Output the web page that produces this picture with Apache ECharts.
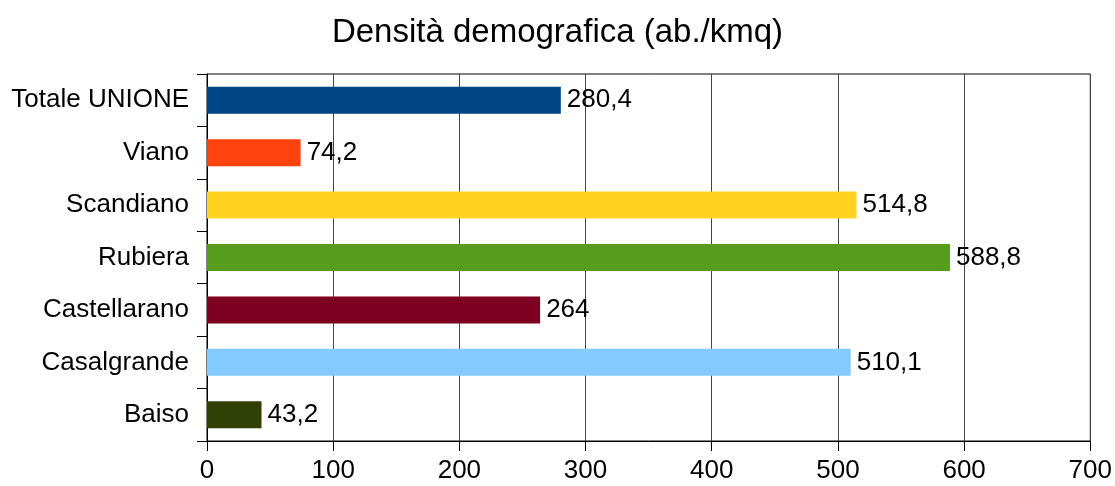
<!DOCTYPE html>
<html>
<head>
<meta charset="utf-8">
<script src="https://cdn.jsdelivr.net/npm/echarts@6/dist/echarts.min.js"></script>
<style>
  html, body { margin: 0; padding: 0; background: #fff; }
  #chart { width: 1115px; height: 486px; }
</style>
</head>
<body>
<div id="chart"></div>
<script>
// categories bottom to top, as on the axis
var comuni = ["Baiso", "Casalgrande", "Castellarano", "Rubiera", "Scandiano", "Viano", "Totale UNIONE"];
var densita = [43.2, 510.1, 264, 588.8, 514.8, 74.2, 280.4];
var colori = ["#314004", "#83caff", "#7e0021", "#579d1c", "#ffd320", "#ff420e", "#004586"];
var xTicks = [0, 100, 200, 300, 400, 500, 600, 700];

var font = "'Liberation Sans', Arial, sans-serif";
var chart = echarts.init(document.getElementById("chart"));

option = {
    animation: false,
    title: {
        text: "Densità demografica (ab./kmq)",
        left: "center",
        top: 11,
        textStyle: {fontFamily: font, fontSize: 33, fontWeight: "normal", color: "#000"}
    },
    grid: {
        left: 207, right: 23, top: 74, bottom: 45,
        show: true, borderColor: "#000", borderWidth: 1
    },
    xAxis: {
        type: "value",
        min: xTicks[0],
        max: xTicks[xTicks.length - 1],
        interval: 100,
        axisLine: {show: true, lineStyle: {color: "#000"}},
        axisTick: {show: true, length: 10, lineStyle: {color: "#000"}},
        splitLine: {show: true, lineStyle: {color: "#444"}},
        axisLabel: {fontFamily: font, fontSize: 26, color: "#000", margin: 17}
    },
    yAxis: {
        type: "category",
        data: comuni,
        axisLine: {show: true, lineStyle: {color: "#000"}},
        axisTick: {show: true, length: 10, lineStyle: {color: "#000"}},
        axisLabel: {fontFamily: font, fontSize: 26, color: "#000", margin: 18}
    },
    series: [{
        type: "bar",
        barWidth: 27,
        data: densita.map(function (v, i) {
            return {value: v, itemStyle: {color: colori[i]}};
        }),
        label: {
            show: true,
            position: "right",
            distance: 6,
            fontFamily: font,
            fontSize: 26,
            color: "#000",
            formatter: function (p) { return String(p.value).replace(".", ","); }
        }
    }]
};
chart.setOption(option);
</script>
</body>
</html>
